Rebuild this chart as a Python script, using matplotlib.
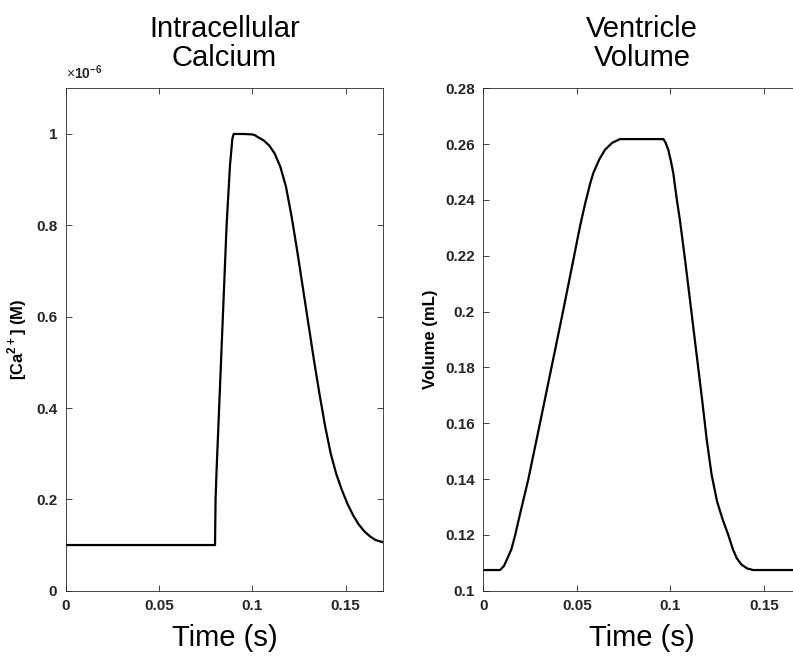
import matplotlib
matplotlib.use("Agg")
import matplotlib.pyplot as plt

plt.rcParams['font.family'] = ['Liberation Sans', 'DejaVu Sans']
plt.rcParams['mathtext.fontset'] = 'custom'
plt.rcParams['mathtext.rm'] = 'Liberation Sans'
plt.rcParams['mathtext.bf'] = 'Liberation Sans:bold'

# ---- data ----
ca_time = [0.0, 0.08, 0.0803, 0.0808, 0.083, 0.0862, 0.088, 0.0893, 0.0900, 0.095,
           0.100, 0.1015, 0.103, 0.106, 0.109, 0.112, 0.115, 0.118, 0.121, 0.124,
           0.127, 0.130, 0.133, 0.136, 0.139, 0.142, 0.145, 0.148, 0.151, 0.154,
           0.157, 0.160, 0.163, 0.166, 0.170]
ca_conc_e6 = [0.1, 0.1, 0.2, 0.26, 0.48, 0.80, 0.93, 0.99, 1.0, 1.0,
              0.999, 0.997, 0.993, 0.986, 0.975, 0.957, 0.928, 0.885, 0.82, 0.745,
              0.665, 0.585, 0.505, 0.43, 0.36, 0.30, 0.255, 0.22, 0.19, 0.165,
              0.145, 0.13, 0.119, 0.111, 0.106]

vol_time = [0.0, 0.0089, 0.011, 0.0125, 0.015, 0.017, 0.020, 0.024, 0.030, 0.036,
            0.042, 0.048, 0.0517, 0.0544, 0.057, 0.0588, 0.062, 0.0651, 0.069, 0.0731,
            0.0963, 0.0975, 0.0989, 0.1003, 0.1016, 0.1034, 0.1052, 0.108, 0.111, 0.114,
            0.117, 0.1195, 0.1221, 0.125, 0.128, 0.131, 0.1335, 0.1355, 0.138, 0.141,
            0.1444, 0.17]
vol_ml = [0.1074, 0.1074, 0.1088, 0.111, 0.1148, 0.1198, 0.1285, 0.1397, 0.159, 0.1785,
          0.198, 0.218, 0.2305, 0.2385, 0.2455, 0.2496, 0.2545, 0.258, 0.2605, 0.2618,
          0.2618, 0.2605, 0.258, 0.254, 0.2496, 0.2405, 0.2325, 0.218, 0.2015, 0.185,
          0.1685, 0.154, 0.1415, 0.132, 0.1255, 0.1200, 0.1148, 0.1117, 0.1094, 0.1080,
          0.1074, 0.1074]

time_ticks = [0, 0.05, 0.1, 0.15]
time_tick_labels = ['0', '0.05', '0.1', '0.15']
ca_ticks = [0, 0.2, 0.4, 0.6, 0.8, 1.0]
ca_tick_labels = ['0', '0.2', '0.4', '0.6', '0.8', '1']
vol_ticks = [0.1, 0.12, 0.14, 0.16, 0.18, 0.2, 0.22, 0.24, 0.26, 0.28]
vol_tick_labels = ['0.1', '0.12', '0.14', '0.16', '0.18', '0.2', '0.22', '0.24', '0.26', '0.28']

W, H = 793, 658
fig = plt.figure(figsize=(W / 100, H / 100), dpi=100)

def px_axes(x0, x1, ytop, ybot):
    return fig.add_axes([x0 / W, (H - ybot) / H, (x1 - x0) / W, (ybot - ytop) / H])

ax1 = px_axes(65.7, 383.0, 88.3, 590.7)
ax2 = px_axes(483.3, 801.2, 88.3, 590.7)

spine_col = '#262626'
for ax in (ax1, ax2):
    for s in ax.spines.values():
        s.set_color(spine_col)
        s.set_linewidth(0.6)
    ax.tick_params(direction='in', length=4, width=0.6, color=spine_col,
                   top=True, right=True, labelsize=11, pad=6, labelcolor='#262626')
    ax.set_xlim(0, 0.17)
    ax.set_xticks(time_ticks)
    ax.set_xticklabels(time_tick_labels, fontweight='bold')
    ax.set_xlabel('Time (s)', fontsize=21, labelpad=8)

ax1.plot(ca_time, ca_conc_e6, color='black', lw=1.6)
ax1.set_ylim(0, 1.1)
ax1.set_yticks(ca_ticks)
ax1.set_yticklabels(ca_tick_labels, fontweight='bold')
ax1.set_ylabel(r'[Ca$^{\mathbf{2+}}$] (M)', fontsize=12, fontweight='bold', labelpad=5)
ax1.set_title('Intracellular\nCalcium', fontsize=21, pad=16, linespacing=1.05)
ax1.text(0.0, 1.012, r'$\times$10$^{\mathbf{-6}}$', transform=ax1.transAxes,
         fontsize=10, fontweight='bold', color='#262626', ha='left', va='bottom')

ax2.plot(vol_time, vol_ml, color='black', lw=1.6)
ax2.set_ylim(0.1, 0.28)
ax2.set_yticks(vol_ticks)
ax2.set_yticklabels(vol_tick_labels, fontweight='bold')
ax2.set_ylabel('Volume (mL)', fontsize=12, fontweight='bold', labelpad=5)
ax2.set_title('Ventricle\nVolume', fontsize=21, pad=16, linespacing=1.05)

fig.savefig('out.png', dpi=100)
